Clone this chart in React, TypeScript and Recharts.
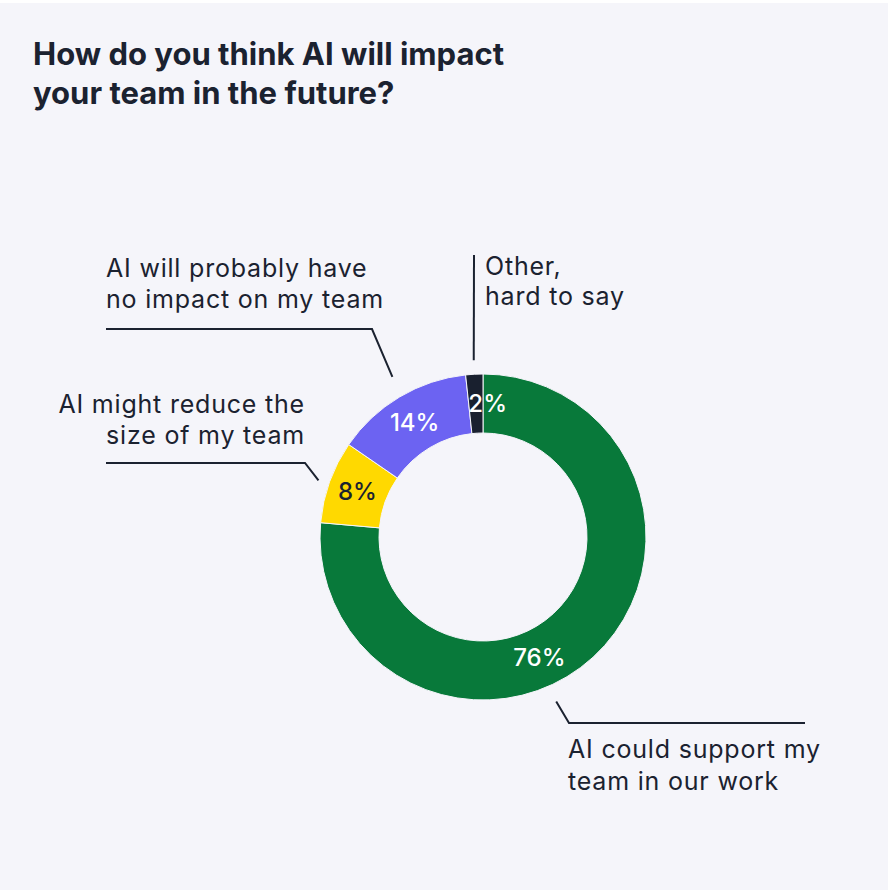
import React from 'react';
import { PieChart, Pie, Cell } from 'recharts';

const categories = [
  'AI could support my team in our work',
  'AI might reduce the size of my team',
  'AI will probably have no impact on my team',
  'Other, hard to say',
];
const values = [76.4, 8.2, 13.7, 1.7];
const labelLines = [
  ['AI could support my', 'team in our work'],
  ['AI might reduce the', 'size of my team'],
  ['AI will probably have', 'no impact on my team'],
  ['Other,', 'hard to say'],
];
const colors = ['#08793A', '#FFD900', '#6C63F2', '#19202F'];
const pctColors = ['#FFFFFF', '#1B2230', '#FFFFFF', '#FFFFFF'];

const data = categories.map((name, i) => ({ name, value: values[i] }));

// annotation layout (relative to pie centre); angles are clockwise from 12 o'clock
const annot = [
  { pctAngle: 155, startAngle: 156, startR: 180, pts: [[86, 186], [322, 186]], tx: 85, ty: [221, 253], anchor: 'start' },
  { pctAngle: null, startAngle: 289, startR: 174, pts: [[-178, -74], [-377, -74]], tx: -178, ty: [-124, -93], anchor: 'end' },
  { pctAngle: null, startAngle: 330.5, startR: 184, pts: [[-111, -208], [-377, -208]], tx: -377, ty: [-260, -229], anchor: 'start' },
  { pctAngle: 2, startAngle: 357, startR: 177, pts: [[-9, -282]], tx: 2, ty: [-262, -232], anchor: 'start' },
];

const FONT = 'Inter, "Noto Sans", sans-serif';
const TEXT = '#1B2230';
const RAD = Math.PI / 180;

const renderLabel = (props: any) => {
  const { cx, cy, midAngle, innerRadius, outerRadius, index, value } = props;
  const a = annot[index];
  const rMid = (innerRadius + outerRadius) / 2;
  const cwMid = 90 - midAngle;
  const pa = (a.pctAngle ?? cwMid) * RAD;
  const px = cx + rMid * Math.sin(pa);
  const py = cy - rMid * Math.cos(pa);
  const sa = a.startAngle * RAD;
  const sx = cx + a.startR * Math.sin(sa);
  const sy = cy - a.startR * Math.cos(sa);
  const points = [[sx, sy], ...a.pts.map(([dx, dy]) => [cx + dx, cy + dy])];
  return (
    <g key={`lbl-${index}`}>
      <text
        x={px}
        y={py}
        textAnchor="middle"
        dominantBaseline="central"
        fill={pctColors[index]}
        fontFamily={FONT}
        fontSize={24}
        fontWeight={500}
      >
        {`${Math.round(value)}%`}
      </text>
      <polyline
        points={points.map((p) => p.join(',')).join(' ')}
        fill="none"
        stroke={TEXT}
        strokeWidth={2}
      />
      <text
        x={cx + a.tx}
        textAnchor={a.anchor}
        fill={TEXT}
        fontFamily={FONT}
        fontSize={25}
        letterSpacing={0.8}
      >
        {labelLines[index].map((line, j) => (
          <tspan key={j} x={cx + a.tx} y={cy + a.ty[j]}>
            {line}
          </tspan>
        ))}
      </text>
    </g>
  );
};

export default function App() {
  return (
    <div style={{ position: 'absolute', left: 0, top: 0, width: 894, height: 890, background: '#FFFFFF' }}>
      <div style={{ position: 'absolute', left: 0, top: 3, width: 888, height: 887, background: '#F5F5FA' }} />
      <div
        style={{
          position: 'absolute',
          left: 33,
          top: 34,
          fontFamily: FONT,
          fontWeight: 700,
          fontSize: 31,
          lineHeight: '39px',
          color: TEXT,
        }}
      >
        How do you think AI will impact
        <br />
        your team in the future?
      </div>
      <div style={{ position: 'absolute', left: 0, top: 0 }}>
        <PieChart width={894} height={890} margin={{ top: 0, right: 0, bottom: 0, left: 0 }}>
          <Pie
            data={data}
            dataKey="value"
            nameKey="name"
            cx={483}
            cy={537}
            innerRadius={104}
            outerRadius={163}
            startAngle={90}
            endAngle={-270}
            stroke="#F5F5FA"
            strokeWidth={1}
            label={renderLabel}
            labelLine={false}
            isAnimationActive={false}
          >
            {data.map((d, i) => (
              <Cell key={d.name} fill={colors[i]} />
            ))}
          </Pie>
        </PieChart>
      </div>
    </div>
  );
}
